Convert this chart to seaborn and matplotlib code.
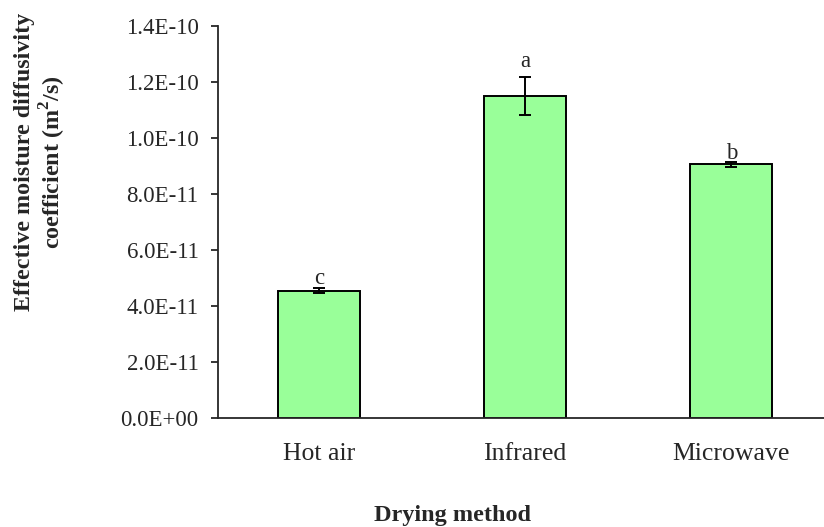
import matplotlib

matplotlib.use("Agg")
import matplotlib.pyplot as plt   # noqa: E402
import numpy as np                 # noqa: E402
import pandas as pd                # noqa: E402
import seaborn as sns              # noqa: E402
from matplotlib.ticker import FuncFormatter  # noqa: E402

methods = ["Hot air", "Infrared", "Microwave"]
diffusivity = [4.55e-11, 1.15e-10, 9.06e-11]
errors = [0.9e-12, 6.8e-12, 0.8e-12]
letters = ["c", "a", "b"]

sns.set_style("ticks")
plt.rcParams["font.family"] = ["Liberation Serif", "DejaVu Serif"]
plt.rcParams["mathtext.fontset"] = "custom"
plt.rcParams["mathtext.rm"] = "Liberation Serif"
plt.rcParams["mathtext.bf"] = "Liberation Serif:bold"

df = pd.DataFrame({"method": methods, "value": diffusivity})

fig = plt.figure(figsize=(8.24, 5.27), dpi=100)
ax = fig.add_axes([218 / 824, 109 / 527, 1 - 218 / 824, (418 - 26) / 527])

sns.barplot(data=df, x="method", y="value", order=methods, width=0.4,
            color="#99FF99", edgecolor="black", linewidth=1.4,
            saturation=1, errorbar=None, ax=ax)
ax.errorbar(range(len(methods)), diffusivity, yerr=errors, fmt="none",
            ecolor="black", elinewidth=1.4, capsize=4.3, capthick=1.4)

# letters sit a little above each error bar (gap in points, as in the source)
label_gap = [2.9, 7.0, 1.9]
for i, (v, e, t) in enumerate(zip(diffusivity, errors, letters)):
    ax.annotate(t, (i, v + e), xytext=(0, label_gap[i]),
                textcoords="offset points", ha="center", va="baseline",
                fontsize=16.5)

ax.set_ylim(0, 1.4e-10)
ax.set_xlim(-0.49, 2.45)
ax.set_yticks(np.arange(0, 1.41e-10, 2e-11))
ax.yaxis.set_major_formatter(FuncFormatter(lambda v, _: f"{v:.1E}"))
ax.tick_params(axis="y", labelsize=16.5, length=5, width=1.3,
               direction="out", pad=9)
ax.tick_params(axis="x", labelsize=18.5, length=0, pad=18)
for s in ("top", "right"):
    ax.spines[s].set_visible(False)
for s in ("left", "bottom"):
    ax.spines[s].set_linewidth(1.3)
ax.set_xlabel("")
ax.set_ylabel("")

fig.text(41 / 824, 1 - 162 / 527,
         "Effective moisture diffusivity\ncoefficient (m$^\\mathbf{2}$/s)",
         rotation=90, ha="center", va="center", multialignment="center",
         fontsize=17.3, fontweight="bold", linespacing=1.15)
fig.text(452 / 824, 1 - 515 / 527, "Drying method", ha="center", va="center",
         fontsize=17.5, fontweight="bold")

fig.savefig("out.png", dpi=100)
plt.close(fig)
